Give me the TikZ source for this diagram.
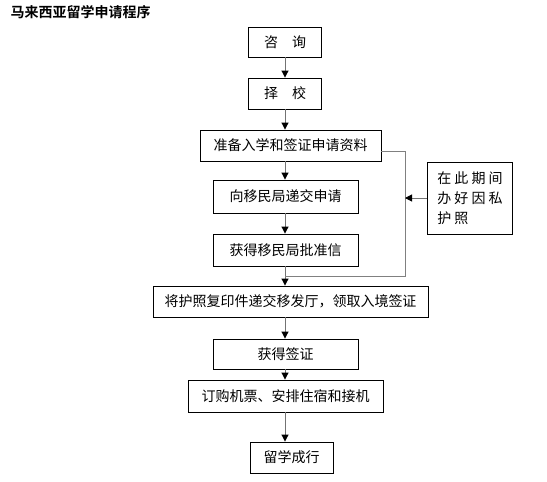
\documentclass[tikz,border=0pt]{standalone}
\usepackage{fontspec}
\setmainfont{Noto Sans CJK SC}[BoldFont={Noto Sans CJK SC Bold}]
\usetikzlibrary{positioning, arrows.meta}
\tikzset{
  blk/.style={draw, line width=0.9pt, align=center, font=\fontsize{14}{16}\selectfont,
              inner sep=0pt},
  side/.style={blk, align=left, inner xsep=10pt, inner ysep=8pt,
               font=\fontsize{14}{20}\selectfont},
  arr/.style={-{Triangle[length=7pt, width=7pt, color=black]}, line width=1pt, black!55},
  lnk/.style={line width=1pt, black!50},   % gray side loop
}

\begin{document}
\begin{tikzpicture}[x=1pt, y=-1pt]
  \useasboundingbox (0,0) rectangle (547,482);
  \node[anchor=west, font=\fontsize{14}{16}\selectfont\bfseries](title) at (7,12){马来西亚留学申请程序};

  \node[blk, minimum width=73pt, minimum height=30pt](n1) at (285,42){咨\quad 询};
  \node[blk, minimum width=73pt, minimum height=31pt](n2) at (285,93.5){择\quad 校};
  \node[blk, minimum width=181pt, minimum height=31pt](n3) at (290.5,145.5){准备入学和签证申请资料};
  \node[blk, minimum width=145pt, minimum height=33pt](n4) at (285.5,196.5){向移民局递交申请};
  \node[blk, minimum width=145pt, minimum height=32pt](n5) at (285.5,250){获得移民局批准信};
  \node[blk, minimum width=275pt, minimum height=31pt](n6) at (290.5,301.5){将护照复印件递交移发厅，领取入境签证};
  \node[blk, minimum width=145pt, minimum height=30pt](n7) at (285.5,354){获得签证};
  \node[blk, minimum width=195pt, minimum height=32pt](n8) at (285.5,396){订购机票、安排住宿和接机};
  \node[blk, minimum width=83pt, minimum height=31pt](n9) at (291.5,457.5){留学成行};
  \node[side, minimum height=72pt](p) at (470,198){在 此 期 间\\办 好 因 私\\护 照};

  % main column
  \draw[arr](n1)--(n2);
  \draw[arr](n2.south -| n1)--(n3.north -| n1);
  \draw[arr](n3.south -| n1)--(n4.north -| n1);
  \draw[arr](n4.south -| n1)--(n5.north -| n1);
  \draw[arr](n5.south -| n1)--(n6.north -| n1);
  \draw[arr](n6.south -| n1)--(n7.north -| n1);
  \draw[arr](n7.south -| n1)--(n8.north -| n1);
  \draw[arr](n8.south -| n1)--(n9.north -| n1);

  % loop around the visa steps
  \coordinate(c1) at (405,151);
  \coordinate(c2) at (405,276);
  \coordinate(c3) at (n1 |- c2);
  \draw[lnk](n3.east |- c1)--(c1)--(c2)--(c3);
  \draw[arr](p.west)--(p.west -| c1);
\end{tikzpicture}
\end{document}
